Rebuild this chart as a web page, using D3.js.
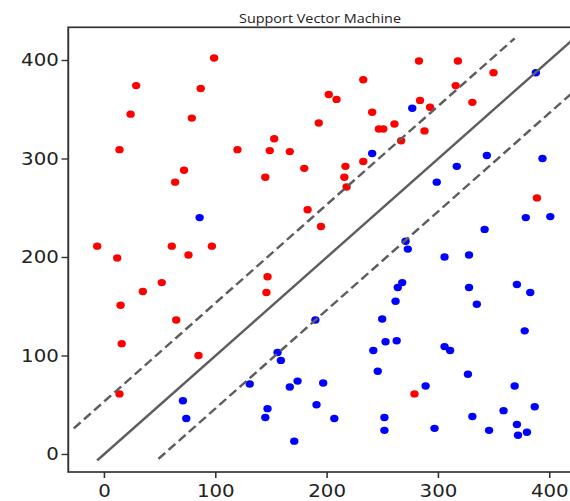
<!DOCTYPE html>
<html>
<head>
<meta charset="utf-8">
<script src="https://cdn.jsdelivr.net/npm/d3@7"></script>
<style>
  body { margin: 0; background: #fff; }
  svg { display: block; }
</style>
</head>
<body>
<div id="chart"></div>
<script>
// red class points [x, y]
const redPoints = [
    [99, 402], [29, 374], [87, 371], [24, 345], [79, 341], [14, 309], [120, 309],
    [153, 320], [149, 308], [167, 307], [72, 288], [64, 276], [145, 281],
    [-6, 211], [61, 211], [97, 211], [283, 399], [318, 399], [350, 387], [233, 380],
    [316, 374], [202, 365], [209, 360], [284, 359], [293, 352], [331, 357],
    [241, 347], [193, 336], [247, 330], [251, 330], [261, 335], [288, 328], [267, 318],
    [180, 290], [217, 292], [233, 297], [216, 281], [218, 271], [183, 248], [195, 231],
    [389, 260], [12, 199], [76, 202], [147, 180], [146, 164], [52, 174], [35, 165],
    [15, 151], [65, 136], [16, 112], [85, 100], [14, 61], [279, 61]
];

// blue class points [x, y]
const bluePoints = [
    [86, 240], [388, 387], [277, 351], [241, 305], [344, 303], [394, 300], [317, 292],
    [299, 276], [379, 240], [401, 241], [342, 228], [271, 216], [273, 208],
    [71, 54], [74, 36], [131, 71], [156, 103], [159, 95], [167, 68], [174, 74],
    [147, 46], [145, 37], [171, 13], [306, 200], [328, 202], [371, 172], [383, 164],
    [328, 169], [335, 152], [268, 174], [264, 169], [262, 155], [378, 125], [190, 136],
    [250, 137], [253, 114], [263, 115], [242, 105], [246, 84], [306, 109], [311, 105],
    [327, 81], [369, 69], [289, 69], [387, 48], [359, 44], [331, 38], [371, 30],
    [372, 19], [380, 22], [346, 24], [297, 26], [252, 37], [252, 24], [207, 36],
    [191, 50], [197, 72]
];

// decision boundary y = x + b, and the two margins
const lineIntercepts = [-0.5, 53, -54];
const lineXStart = [-6, -27, 49];
const lineXEnd = [440, 369, 480];
const lineDashed = [false, true, true];

const xTicks = [0, 100, 200, 300, 400];
const yTicks = [0, 100, 200, 300, 400];

const chart_width = 570;
const chart_height = 501;
const stretch = 1.13;   // picture is stretched horizontally

const plot_left = 60.4;
const plot_right = 506.2;
const plot_top = 27.3;
const plot_bottom = 472;

const x_scale = d3.scaleLinear()
    .domain([-32, 420.5])
    .range([plot_left, plot_right]);

const y_scale = d3.scaleLinear()
    .domain([-18.3, 433.2])
    .range([plot_bottom, plot_top]);

const svg = d3.select('#chart')
    .append('svg')
    .attr('width', chart_width)
    .attr('height', chart_height);

svg.append('defs').append('clipPath')
    .attr('id', 'plotclip')
    .append('rect')
    .attr('x', plot_left)
    .attr('y', plot_top)
    .attr('width', plot_right - plot_left)
    .attr('height', plot_bottom - plot_top);

const g = svg.append('g')
    .attr('transform', `scale(${stretch},1)`);

const plot = g.append('g').attr('clip-path', 'url(#plotclip)');

// points
plot.selectAll('circle.red')
    .data(redPoints)
    .enter().append('circle')
    .attr('class', 'red')
    .attr('cx', d => x_scale(d[0]))
    .attr('cy', d => y_scale(d[1]))
    .attr('r', 3.7)
    .attr('fill', '#ff0000');

plot.selectAll('circle.blue')
    .data(bluePoints)
    .enter().append('circle')
    .attr('class', 'blue')
    .attr('cx', d => x_scale(d[0]))
    .attr('cy', d => y_scale(d[1]))
    .attr('r', 3.7)
    .attr('fill', '#0000ff');

// boundary lines
const line = d3.line()
    .x(d => x_scale(d[0]))
    .y(d => y_scale(d[1]));

lineIntercepts.forEach((b, i) => {
    const pts = [
        [lineXStart[i], lineXStart[i] + b],
        [lineXEnd[i], lineXEnd[i] + b]
    ];
    plot.append('path')
        .datum(pts)
        .attr('fill', 'none')
        .attr('stroke', '#5e5e5e')
        .attr('stroke-width', 2.3)
        .attr('stroke-dasharray', lineDashed[i] ? '8.5,4.2' : null)
        .attr('d', line);
});

// axes
const x_axis = d3.axisBottom(x_scale)
    .tickValues(xTicks)
    .tickSize(6)
    .tickPadding(6.3)
    .tickSizeOuter(0);

const y_axis = d3.axisLeft(y_scale)
    .tickValues(yTicks)
    .tickSize(6)
    .tickPadding(2.4)
    .tickSizeOuter(0);

const xg = g.append('g')
    .attr('transform', `translate(0,${plot_bottom})`)
    .call(x_axis);
const yg = g.append('g')
    .attr('transform', `translate(${plot_left},0)`)
    .call(y_axis);

[xg, yg].forEach(a => {
    a.select('.domain').remove();
    a.selectAll('line').attr('stroke', '#333').attr('stroke-width', 1.4);
    a.selectAll('text')
        .attr('fill', '#222')
        .style('font-family', 'DejaVu Sans')
        .style('font-size', '17.5px');
});

// spines
g.append('rect')
    .attr('x', plot_left)
    .attr('y', plot_top)
    .attr('width', plot_right - plot_left)
    .attr('height', plot_bottom - plot_top)
    .attr('fill', 'none')
    .attr('stroke', '#333')
    .attr('stroke-width', 1.7);

// title
svg.append('text')
    .attr('x', 320)
    .attr('y', 22.5)
    .attr('text-anchor', 'middle')
    .attr('textLength', 162)
    .attr('lengthAdjust', 'spacingAndGlyphs')
    .attr('fill', '#222')
    .style('font-family', 'Open Sans')
    .style('font-size', '13.5px')
    .text('Support Vector Machine');
</script>
</body>
</html>
